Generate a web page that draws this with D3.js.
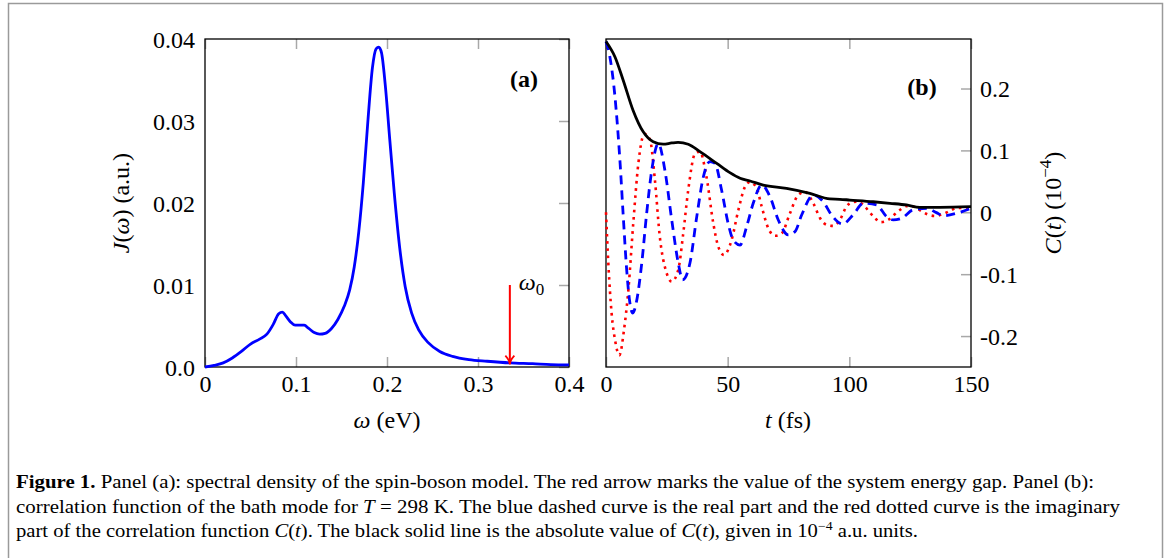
<!DOCTYPE html>
<html>
<head>
<meta charset="utf-8">
<script src="https://cdn.jsdelivr.net/npm/d3@7"></script>
<style>
  body { margin: 0; background: #fff; }
  svg { display: block; }
  text { font-family: "Liberation Serif", "DejaVu Serif", serif; fill: #000; }
</style>
</head>
<body>
<svg id="fig" width="1171" height="558"></svg>
<script>
// panel (a): spectral density J(omega)
var omega = [0, 0.01, 0.02, 0.03, 0.04, 0.05, 0.06, 0.068, 0.075, 0.081, 0.085, 0.089, 0.094, 0.099, 0.104, 0.109, 0.114, 0.120, 0.126, 0.132,
  0.139, 0.146, 0.153, 0.159, 0.164, 0.169, 0.174, 0.179, 0.184, 0.188, 0.191, 0.194, 0.198, 0.203, 0.208, 0.214, 0.220, 0.227,
  0.235, 0.245, 0.258, 0.272, 0.290, 0.310, 0.335, 0.360, 0.380, 0.400];
var jOmega = [0, 0.0002, 0.0005, 0.0011, 0.0019, 0.0028, 0.0034, 0.0040, 0.0052, 0.0065, 0.0067, 0.0062, 0.0055, 0.0051, 0.0051, 0.0051, 0.0047,
  0.0042, 0.0040, 0.0041, 0.0047, 0.0058, 0.0074, 0.0094, 0.0122, 0.0165, 0.0225, 0.0300, 0.0365, 0.0388, 0.0390, 0.0383, 0.0345,
  0.0278, 0.0212, 0.0145, 0.0098, 0.0066, 0.0045, 0.0030, 0.0019, 0.0013, 0.0009, 0.0007, 0.0005, 0.0004, 0.0003, 0.00025];
var omega0 = 0.335;

// panel (b): correlation function C(t), units of 1e-4
var reT = [0, 1.6, 3.7, 5.8, 7.1, 8.5, 9.6, 11, 12.5, 14.7, 16.7, 18.8, 21.5, 24.2, 27, 29.7, 31.5, 34.5, 37.3, 40, 42.7, 44.8, 47.5,
  50.2, 52.3, 55.1, 57.8, 60.5, 64, 67.4, 70.8, 74.9, 77.7, 80.4, 85.2, 89.3, 92.7, 97.2, 101.6, 105.7, 111.2, 115.3, 118, 121.5,
  126.2, 131.7, 135.8, 138.6, 144.1, 150];
var reC = [0.276, 0.251, 0.186, 0.079, -0.007, -0.093, -0.140, -0.163, -0.145, -0.082, -0.002, 0.068, 0.111, 0.068, -0.012, -0.082,
  -0.109, -0.082, -0.007, 0.057, 0.082, 0.079, 0.036, -0.018, -0.045, -0.053, -0.023, 0.0145, 0.044, 0.025, -0.0124, -0.0366, -0.031,
  -0.0044, 0.028, 0.017, -0.0044, -0.019, -0.004, 0.0145, 0.012, -0.007, -0.0124, -0.0097, 0.004, 0.0065, -0.0006, -0.0055, -0.0016, 0.0065];
var imT = [0, 0.95, 2.3, 3.7, 5.5, 7.4, 9.2, 11.2, 13.3, 15.8, 18.1, 20.1, 22.1, 24.9, 27, 29.7, 31.6, 33.8, 36.6, 38.6, 41.3, 44.1,
  46.1, 48.5, 51.6, 54.4, 57.1, 59.2, 61.9, 64, 66.7, 69.5, 72.2, 75.6, 79, 81.8, 85.2, 88, 90.7, 93.4, 96.1, 98.8, 101, 103.7,
  106.4, 108.5, 110.6, 112.9, 116, 118.3, 120.8, 123.5, 126.5, 129.3, 132, 135.2, 138.2, 141, 144.2, 147.1, 150];
var imC = [0, -0.082, -0.163, -0.206, -0.231, -0.190, -0.125, -0.018, 0.079, 0.127, 0.117, 0.052, -0.039, -0.098, -0.112, -0.093,
  -0.039, 0.036, 0.095, 0.098, 0.057, -0.018, -0.055, -0.069, -0.045, 0.0037, 0.041, 0.049, 0.039, 0.009, -0.026, -0.038, -0.034,
  -0.0016, 0.028, 0.033, 0.0145, -0.0097, -0.0205, -0.022, -0.0124, 0.009, 0.016, 0.017, 0.009, -0.0006, -0.0097, -0.016, -0.0124,
  -0.0044, 0.0037, 0.010, 0.009, 0.0026, -0.0032, -0.006, -0.0032, 0.0016, 0.007, 0.007, 0.0075];
var absT = [0, 3.7, 7.1, 11.1, 15.3, 19.4, 23.5, 27, 29.6, 33.8, 38.6, 45.5, 50.9, 55.1, 59.2, 64.6, 74.2, 83.8, 92, 96.1, 100.2,
  109.8, 116.7, 123.5, 129, 137.2, 150];
var absC = [0.276, 0.251, 0.213, 0.165, 0.130, 0.114, 0.110, 0.112, 0.113, 0.110, 0.098, 0.079, 0.064, 0.055, 0.0505, 0.044, 0.0387,
  0.0306, 0.0215, 0.021, 0.0198, 0.017, 0.0145, 0.0118, 0.008, 0.008, 0.009];

// tick labels
var aXTicks = [0, 0.1, 0.2, 0.3, 0.4];
var aYTicks = [0, 0.01, 0.02, 0.03, 0.04];
var aYLabels = ["0.0", "0.01", "0.02", "0.03", "0.04"];
var bXTicks = [0, 50, 100, 150];
var bYTicks = [-0.2, -0.1, 0, 0.1, 0.2];
var bYLabels = ["-0.2", "-0.1", "0", "0.1", "0.2"];

var svg = d3.select("#fig");
var plotTop = 39, plotBottom = 367, tickLen = 10, fs = 24;

// outer frame
svg.append("rect").attr("x", 8.5).attr("y", 3.5).attr("width", 1154).attr("height", 620)
  .attr("fill", "none").attr("stroke", "#9a9a9a").attr("stroke-width", 1.5);

var xa = d3.scaleLinear().domain([0, 0.4]).range([205, 569]);
var ya = d3.scaleLinear().domain([0, 0.04]).range([plotBottom, plotTop]);
var xb = d3.scaleLinear().domain([0, 150]).range([606, 971]);
var yb = d3.scaleLinear().domain([-0.25, 0.28]).range([plotBottom, plotTop]);

function grayTicks(g) {
  g.select(".domain").remove();
  g.selectAll(".tick line").attr("stroke", "#a8a8a8").attr("stroke-width", 1.5);
  g.selectAll(".tick text").remove();
}
function labelsOnly(g) {
  g.select(".domain").remove();
  g.selectAll(".tick line").remove();
  g.selectAll(".tick text").style("font-size", fs + "px").style("font-family", "Liberation Serif, serif");
}

function panel(x, y, xt, yt, ylab, yRight) {
  var x0 = x.range()[0], x1 = x.range()[1];
  // inner ticks (bottom, top, right)
  svg.append("g").attr("transform", "translate(0," + plotBottom + ")")
    .call(d3.axisTop(x).tickValues(xt).tickSize(tickLen).tickFormat("")).call(grayTicks);
  svg.append("g").attr("transform", "translate(0," + plotTop + ")")
    .call(d3.axisBottom(x).tickValues(xt).tickSize(tickLen).tickFormat("")).call(grayTicks);
  svg.append("g").attr("transform", "translate(" + x1 + ",0)")
    .call(d3.axisLeft(y).tickValues(yt).tickSize(tickLen).tickFormat("")).call(grayTicks);
  // labels
  var gx = svg.append("g").attr("transform", "translate(0," + plotBottom + ")")
    .call(d3.axisBottom(x).tickValues(xt).tickSize(0).tickFormat(d3.format("~g"))).call(labelsOnly);
  gx.selectAll(".tick text").attr("y", 25).attr("dy", 0);
  var fmt = function (d, i) { return ylab[i]; };
  var gy;
  if (yRight) {
    gy = svg.append("g").attr("transform", "translate(" + x1 + ",0)")
      .call(d3.axisRight(y).tickValues(yt).tickSize(0).tickPadding(9).tickFormat(fmt)).call(labelsOnly);
  } else {
    gy = svg.append("g").attr("transform", "translate(" + x0 + ",0)")
      .call(d3.axisLeft(y).tickValues(yt).tickSize(0).tickPadding(10).tickFormat(fmt)).call(labelsOnly);
  }
  gy.selectAll(".tick text").attr("dy", "0.34em");
  // box
  svg.append("rect").attr("x", x0).attr("y", plotTop).attr("width", x1 - x0).attr("height", plotBottom - plotTop)
    .attr("fill", "none").attr("stroke", "#000").attr("stroke-width", 1.3);
}

panel(xa, ya, aXTicks, aYTicks, aYLabels, false);
panel(xb, yb, bXTicks, bYTicks, bYLabels, true);

// panel (a) curve
var lineA = d3.line().x(function (d) { return xa(d[0]); }).y(function (d) { return ya(d[1]); }).curve(d3.curveMonotoneX);
svg.append("path").datum(d3.zip(omega, jOmega)).attr("d", lineA)
  .attr("fill", "none").attr("stroke", "#0000ff").attr("stroke-width", 2.8);

// red arrow for omega_0
var ax = xa(omega0), ayTop = ya(0.01), ayEnd = ya(0.0003);
svg.append("line").attr("x1", ax).attr("x2", ax).attr("y1", ayTop).attr("y2", ayEnd - 1)
  .attr("stroke", "#ff0000").attr("stroke-width", 2);
svg.append("path").attr("d", "M" + (ax - 4.5) + "," + (ayEnd - 9) + " Q" + ax + "," + (ayEnd - 4) + " " + ax + "," + ayEnd +
    " Q" + ax + "," + (ayEnd - 4) + " " + (ax + 4.5) + "," + (ayEnd - 9))
  .attr("fill", "none").attr("stroke", "#ff0000").attr("stroke-width", 1.8);
var w0 = svg.append("text").attr("x", ax + 9).attr("y", 290).style("font-size", fs + "px");
w0.append("tspan").style("font-style", "italic").text("ω");
w0.append("tspan").attr("dy", 5).style("font-size", "17px").text("0");

// panel (b) curves
var lineB = d3.line().x(function (d) { return xb(d[0]); }).y(function (d) { return yb(d[1]); }).curve(d3.curveMonotoneX);
svg.append("path").datum(d3.zip(imT, imC)).attr("d", lineB)
  .attr("fill", "none").attr("stroke", "#ff0000").attr("stroke-width", 2.6).attr("stroke-dasharray", "2.6,4.6");
svg.append("path").datum(d3.zip(reT, reC)).attr("d", lineB)
  .attr("fill", "none").attr("stroke", "#0000ff").attr("stroke-width", 2.8).attr("stroke-dasharray", "9,6");
svg.append("path").datum(d3.zip(absT, absC)).attr("d", lineB)
  .attr("fill", "none").attr("stroke", "#000").attr("stroke-width", 2.8);

// panel tags
svg.append("text").attr("x", 524).attr("y", 87).attr("text-anchor", "middle")
  .style("font-size", fs + "px").style("font-weight", "bold").text("(a)");
svg.append("text").attr("x", 922).attr("y", 95).attr("text-anchor", "middle")
  .style("font-size", fs + "px").style("font-weight", "bold").text("(b)");

// axis titles
var xtA = svg.append("text").attr("x", 387).attr("y", 428).attr("text-anchor", "middle").style("font-size", fs + "px");
xtA.append("tspan").style("font-style", "italic").text("ω");
xtA.append("tspan").text("  (eV)");
var xtB = svg.append("text").attr("x", 788).attr("y", 428).attr("text-anchor", "middle").style("font-size", fs + "px");
xtB.append("tspan").style("font-style", "italic").text("t");
xtB.append("tspan").text("  (fs)");

var ytA = svg.append("text").attr("transform", "translate(129,203) rotate(-90)").attr("text-anchor", "middle")
  .style("font-size", fs + "px");
ytA.append("tspan").style("font-style", "italic").text("J");
ytA.append("tspan").text("(");
ytA.append("tspan").style("font-style", "italic").text("ω");
ytA.append("tspan").text(")  (a.u.)");

var ytB = svg.append("text").attr("transform", "translate(1061,203) rotate(-90)").attr("text-anchor", "middle")
  .style("font-size", fs + "px");
ytB.append("tspan").style("font-style", "italic").text("C");
ytB.append("tspan").text("(");
ytB.append("tspan").style("font-style", "italic").text("t");
ytB.append("tspan").text(") (10");
ytB.append("tspan").attr("dy", -10).style("font-size", "17px").text("−4");
ytB.append("tspan").attr("dy", 10).text(")");

// caption
var capFont = 18;
function capLine(y, len, parts) {
  var t = svg.append("text").attr("x", 16).attr("y", y).attr("textLength", len).attr("lengthAdjust", "spacingAndGlyphs")
    .style("font-size", capFont + "px");
  parts.forEach(function (p) {
    var s = t.append("tspan").text(p[0]);
    if (p[1] == "b") s.style("font-weight", "bold");
    if (p[1] == "i") s.style("font-style", "italic");
    if (p[1] == "sup") s.attr("dy", -7).style("font-size", "12px");
    if (p[1] == "down") s.attr("dy", 7);
  });
}
capLine(488, 1078, [["Figure 1.", "b"], [" Panel (a): spectral density of the spin-boson model. The red arrow marks the value of the system energy gap. Panel (b):"]]);
capLine(513, 1104, [["correlation function of the bath mode for "], ["T", "i"], [" = 298 K. The blue dashed curve is the real part and the red dotted curve is the imaginary"]]);
capLine(537, 902, [["part of the correlation function "], ["C", "i"], ["("], ["t", "i"], ["). The black solid line is the absolute value of "],
  ["C", "i"], ["("], ["t", "i"], ["), given in 10"], ["−4", "sup"], [" a.u. units.", "down"]]);
</script>
</body>
</html>
